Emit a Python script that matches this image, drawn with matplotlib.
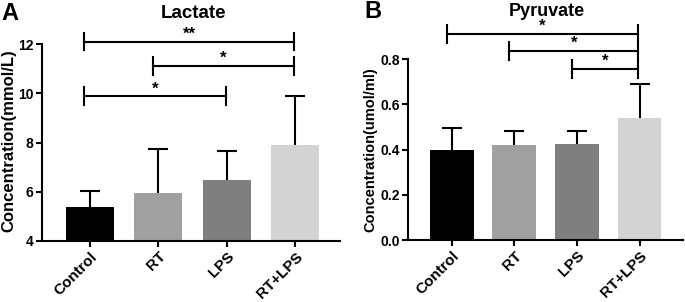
import matplotlib
matplotlib.use('Agg')
import matplotlib.pyplot as plt
import numpy as np

plt.rcParams['font.family'] = ['Liberation Sans', 'DejaVu Sans']
plt.rcParams['font.weight'] = 'bold'

groups = ['Control', 'RT', 'LPS', 'RT+LPS']
colors = ['#000000', '#a0a0a0', '#7f7f7f', '#d3d3d3']

lactate_mean = [5.40, 5.97, 6.48, 7.88]
lactate_err = [0.62, 1.77, 1.17, 2.03]
lactate_sig = [(0, 2, 9.88, '*'), (1, 3, 11.1, '*'), (0, 3, 12.1, '**')]

pyruvate_mean = [0.400, 0.419, 0.423, 0.541]
pyruvate_err = [0.094, 0.065, 0.058, 0.148]
pyruvate_sig = [(2, 3, 0.757, '*'), (1, 3, 0.836, '*'), (0, 3, 0.911, '*')]

fig = plt.figure(figsize=(6.85, 3.02), dpi=100)
axA = fig.add_axes([0.0613, 0.202, 0.435, 0.652])
axB = fig.add_axes([0.5956, 0.205, 0.402, 0.599])


def panel(ax, mean, err, sig, ylim, yticks, ylabel, ylsize, tick_h, xlim):
    x = np.arange(len(groups))
    mean = np.array(mean)
    err = np.array(err)
    ax.bar(x, mean, width=0.7, color=colors, zorder=2)
    # upper error bars only
    ax.vlines(x, mean, mean + err, color='black', lw=1.5, zorder=1)
    ax.plot(x, mean + err, ls='none', marker='_', markersize=14, mew=1.5,
            color='black', zorder=1)
    ax.set_xlim(*xlim)
    ax.set_ylim(*ylim)
    ax.set_yticks(yticks)
    ax.set_xticks(x)
    ax.set_xticklabels(groups, rotation=45, ha='right', va='top', rotation_mode='anchor',
                       fontsize=11, fontweight='bold')
    ax.spines['top'].set_visible(False)
    ax.spines['right'].set_visible(False)
    ax.spines['left'].set_linewidth(1.5)
    ax.spines['bottom'].set_linewidth(1.5)
    ax.tick_params(width=1.5, length=4, direction='out', pad=2)
    ax.tick_params(axis='y', labelsize=10)
    ax.set_ylabel(ylabel, fontsize=ylsize, fontweight='bold')
    for a, b, y, t in sig:
        x0, x1 = a - 0.08, b - 0.02
        ax.plot([x0, x1], [y, y], color='black', lw=1.5, clip_on=False)
        for xx in (x0, x1):
            ax.plot([xx, xx], [y - tick_h, y + tick_h], color='black', lw=1.5, clip_on=False)
        ax.text((x0 + x1) / 2, y, t, ha='center', va='bottom', fontsize=12,
                fontweight='bold')


panel(axA, lactate_mean, lactate_err, lactate_sig, (4, 12), [4, 6, 8, 10, 12],
      'Concentration(mmol/L)', 12, 0.36, (-0.7, 3.65))
panel(axB, pyruvate_mean, pyruvate_err, pyruvate_sig, (0, 0.8), [0.0, 0.2, 0.4, 0.6, 0.8],
      'Concentration(umol/ml)', 10.5, 0.04, (-0.7, 3.7))
axB.set_yticklabels(['0.0', '0.2', '0.4', '0.6', '0.8'])
axA.yaxis.set_label_coords(-0.086, 0.51)
axB.yaxis.set_label_coords(-0.112, 0.5)

fig.text(193 / 685, 1 - 13 / 302, 'Lactate', fontsize=13.5, fontweight='bold',
         ha='center', va='center')
fig.text(547 / 685, 1 - 11 / 302, 'Pyruvate', fontsize=13, fontweight='bold',
         ha='center', va='center')
fig.text(0.002, 1 - 13 / 302, 'A', fontsize=17, fontweight='bold', va='center')
fig.text(364 / 685, 1 - 12 / 302, 'B', fontsize=17, fontweight='bold', va='center')

fig.savefig('out.png', dpi=100)
